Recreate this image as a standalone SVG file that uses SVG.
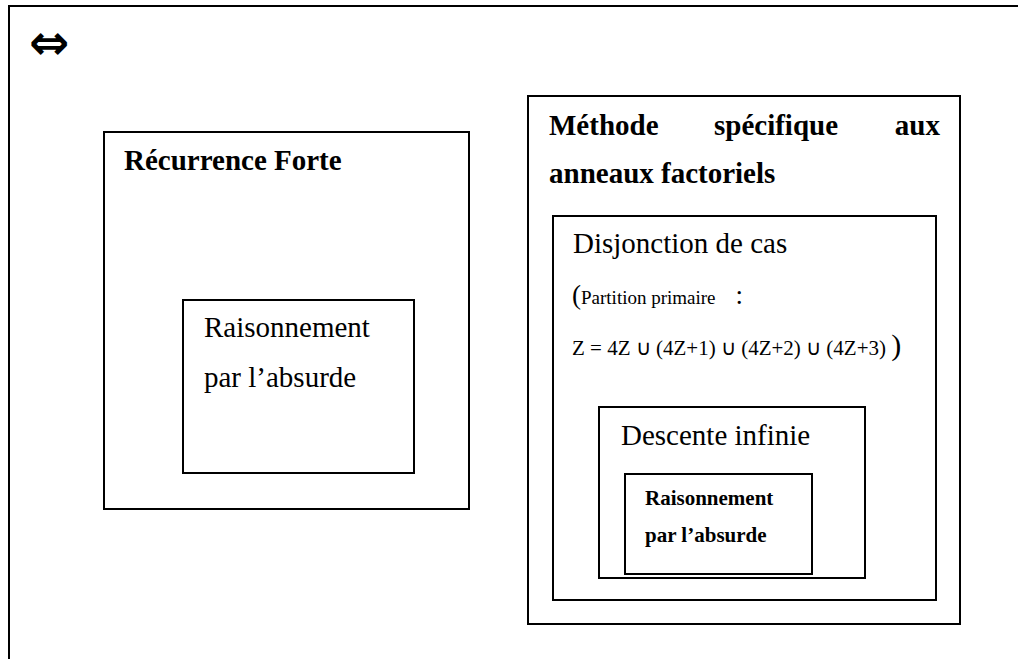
<svg xmlns="http://www.w3.org/2000/svg" width="1018" height="659" viewBox="0 0 1018 659">
<style>
.box{fill:none;stroke:#000;stroke-width:2}
.t{font-family:"Liberation Serif","Times New Roman",serif;fill:#000}
.b{font-weight:bold}
.big{font-size:29px}
.sm{font-size:21px}
</style>
<rect width="1018" height="659" fill="#fff"/>
<g id="frame"><path class="box" d="M9 659 V6 H1018"/></g>
<g id="equiv"><text x="29" y="59" font-family="DejaVu Sans, sans-serif" font-weight="bold" font-size="48">⇔</text></g>
<g id="recurrence">
<rect class="box" x="104" y="132" width="365" height="377"/>
<text class="t b big" x="124" y="170">Récurrence Forte</text>
</g>
<g id="absurde-left">
<rect class="box" x="183" y="300" width="231" height="173"/>
<text class="t big" x="204" y="337">Raisonnement</text>
<text class="t big" x="204" y="387">par l’absurde</text>
</g>
<g id="methode">
<rect class="box" x="528" y="96" width="432" height="528"/>
<text class="t b big" x="549" y="135">Méthode</text>
<text class="t b big" x="714" y="135">spécifique</text>
<text class="t b big" x="940" y="135" text-anchor="end">aux</text>
<text class="t b big" x="549" y="183">anneaux factoriels</text>
</g>
<g id="disjonction">
<rect class="box" x="553" y="216" width="383" height="384"/>
<text class="t big" x="573" y="253">Disjonction de cas</text>
<text class="t" x="572" y="304"><tspan font-size="27">(</tspan><tspan font-size="19">Partition primaire</tspan><tspan font-size="27" dx="20">:</tspan></text>
<text class="t" x="572" y="355"><tspan class="sm">Z = 4Z ∪ (4Z+1) ∪ (4Z+2) ∪ (4Z+3) </tspan><tspan font-size="30">)</tspan></text>
</g>
<g id="descente">
<rect class="box" x="599" y="407" width="266" height="171"/>
<text class="t big" x="621" y="445">Descente infinie</text>
</g>
<g id="absurde-right">
<rect class="box" x="625" y="474" width="187" height="100"/>
<text class="t b" x="645" y="505" font-size="21">Raisonnement</text>
<text class="t b" x="645" y="542" font-size="21">par l’absurde</text>
</g>
</svg>
